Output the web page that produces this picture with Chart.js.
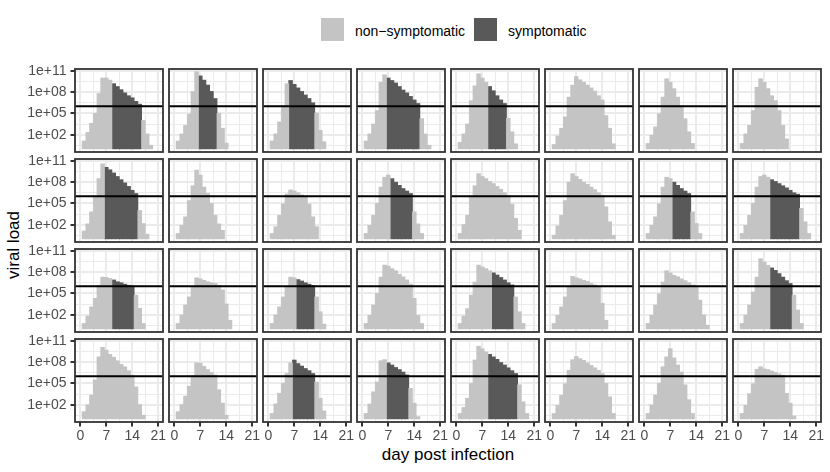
<!DOCTYPE html>
<html>
<head>
<meta charset="utf-8">
<script src="https://cdn.jsdelivr.net/npm/chart.js@4.4.1/dist/chart.umd.min.js"></script>
<style>
  html, body { margin: 0; padding: 0; background: #ffffff; }
  #wrap { position: relative; width: 830px; height: 472px; overflow: hidden; background: #ffffff;
          font-family: "Liberation Sans", Arial, Helvetica, sans-serif; }
  .pc { position: absolute; }
  .key { position: absolute; width: 23px; height: 23px; }
  .ktext { position: absolute; font-size: 14px; line-height: 23px; color: #000; white-space: nowrap; }
  #xtitle { position: absolute; left: 75px; width: 746px; top: 445px; line-height: 20px; text-align: center;
            font-size: 17px; color: #000; }
  #ytitle { position: absolute; left: -86px; top: 235px; width: 200px; line-height: 20px; text-align: center;
            font-size: 17px; color: #000; transform: rotate(-90deg); }
</style>
</head>
<body>
<div id="wrap">
  <div class="key" style="left:321px; top:18px; background:#c4c4c4;"></div>
  <div class="ktext" style="left:355px; top:20px;">non−symptomatic</div>
  <div class="key" style="left:474px; top:18px; background:#595959;"></div>
  <div class="ktext" style="left:508px; top:20px;">symptomatic</div>
  <div id="xtitle">day post infection</div>
  <div id="ytitle">viral load</div>
</div>
<script>
// ---------------- data (log10 viral load, one value per day starting at FIRST_DAY) ----------------
const FIRST_DAY = 1;
// row 1
const panel01 = [1.1, 2.3, 3.6, 5.0, 7.8, 10.0, 10.0, 9.7, 9.2, 8.8, 8.35, 7.9, 7.5, 7.2, 6.7, 6.3, 4.0, 2.1, 0.5];
const panel02 = [1.1, 2.1, 3.3, 4.9, 8.1, 10.9, 10.3, 9.7, 9.0, 8.1, 7.1, 5.0, 2.9, 0.8];
const panel03 = [1.1, 2.1, 3.8, 6.1, 9.2, 9.65, 9.1, 8.6, 8.1, 7.6, 7.1, 6.5, 5.05, 2.6, 1.0];
const panel04 = [1.1, 2.1, 3.5, 5.4, 9.4, 10.45, 10.0, 9.65, 9.3, 8.8, 8.3, 7.9, 7.4, 6.9, 6.4, 4.25, 2.1, 0.5];
const panel05 = [0.9, 2.1, 3.5, 6.8, 8.9, 10.6, 10.0, 9.4, 8.8, 8.2, 7.5, 6.9, 6.4, 4.3, 2.4, 0.7];
const panel06 = [0.6, 1.8, 2.9, 4.5, 7.3, 9.0, 10.2, 9.75, 9.4, 9.0, 8.6, 8.15, 7.5, 6.9, 4.7, 2.9, 0.7];
const panel07 = [0.75, 1.9, 3.1, 4.95, 7.3, 9.9, 9.4, 8.5, 7.3, 6.1, 4.25, 2.4, 0.75];
const panel08 = [0.75, 2.1, 3.3, 5.4, 8.7, 9.9, 9.4, 8.5, 7.5, 6.8, 5.4, 3.3, 1.4];
// row 2
const panel09 = [1.1, 2.1, 3.8, 5.9, 8.5, 10.6, 10.1, 9.75, 9.3, 8.8, 8.35, 7.9, 7.4, 6.85, 6.4, 4.0, 2.15, 0.65];
const panel10 = [0.75, 1.9, 3.1, 5.4, 7.5, 9.7, 9.0, 7.3, 6.4, 5.0, 3.3, 2.1, 1.2];
const panel11 = [0.75, 1.7, 3.3, 4.95, 6.35, 6.9, 6.75, 6.5, 6.2, 6.0, 4.9, 3.1, 1.7];
const panel12 = [0.75, 1.9, 3.3, 5.0, 7.3, 8.7, 9.0, 8.5, 8.0, 7.55, 7.1, 6.75, 6.4, 3.8, 2.1, 0.75];
const panel13 = [0.75, 2.0, 3.3, 5.9, 7.5, 9.2, 8.8, 8.5, 8.1, 7.8, 7.4, 7.0, 6.5, 6.1, 4.9, 2.9, 1.2];
const panel14 = [0.5, 1.8, 3.3, 5.4, 8.0, 9.2, 8.8, 8.4, 8.0, 7.7, 7.3, 6.95, 6.5, 6.1, 4.5, 2.4, 0.5];
const panel15 = [0.75, 1.9, 3.1, 4.95, 7.3, 8.7, 8.5, 8.0, 7.55, 7.1, 6.75, 6.4, 3.8, 2.15, 0.75];
const panel16 = [0.75, 1.9, 3.3, 5.0, 7.3, 8.8, 9.0, 8.7, 8.35, 8.1, 7.8, 7.5, 7.2, 6.85, 6.5, 6.3, 4.3, 2.4, 0.75];
// row 3
const panel17 = [0.75, 1.8, 3.1, 4.3, 6.15, 7.3, 7.25, 7.1, 6.9, 6.65, 6.5, 6.3, 6.15, 6.05, 4.75, 2.9, 0.75];
const panel18 = [0.75, 1.95, 3.35, 4.5, 5.9, 7.2, 7.05, 6.85, 6.65, 6.5, 6.4, 6.15, 5.5, 3.5, 1.2];
const panel19 = [0.75, 1.95, 3.1, 4.5, 5.9, 7.3, 7.2, 6.95, 6.75, 6.5, 6.3, 6.1, 4.5, 2.4, 0.65];
const panel20 = [0.75, 1.9, 3.35, 5.0, 7.3, 9.0, 8.85, 8.5, 8.2, 7.7, 7.35, 6.9, 6.3, 4.3, 1.9, 0.75];
const panel21 = [0.75, 1.8, 2.85, 4.75, 6.6, 9.0, 8.75, 8.5, 8.2, 7.9, 7.6, 7.25, 6.9, 6.5, 6.2, 4.5, 2.4, 0.75];
const panel22 = [0.75, 1.9, 3.1, 4.5, 5.9, 7.4, 7.2, 7.05, 6.85, 6.7, 6.4, 6.2, 6.0, 3.6, 1.2];
const panel23 = [0.75, 1.9, 3.35, 4.95, 6.6, 8.2, 7.9, 7.55, 7.35, 7.05, 6.8, 6.5, 6.2, 6.0, 4.05, 1.95, 0.5];
const panel24 = [0.75, 1.95, 3.35, 5.2, 7.3, 9.9, 9.45, 8.95, 8.6, 8.25, 7.8, 7.3, 6.8, 6.4, 4.75, 2.65, 0.75];
// row 4
const panel25 = [1.0, 1.95, 3.35, 5.5, 8.75, 10.1, 9.7, 9.1, 8.7, 8.2, 7.7, 7.35, 6.8, 6.15, 4.5, 2.0, 0.5];
const panel26 = [1.0, 2.0, 3.2, 4.6, 6.1, 7.9, 7.85, 7.4, 6.95, 6.55, 6.2, 4.1, 2.2, 0.5];
const panel27 = [0.75, 2.1, 3.6, 5.0, 6.4, 7.9, 8.3, 7.8, 7.45, 7.1, 6.8, 6.4, 5.2, 2.9, 1.1];
const panel28 = [0.75, 2.1, 3.8, 5.2, 8.2, 8.35, 7.9, 7.6, 7.25, 6.95, 6.6, 6.2, 4.3, 2.2, 0.3];
const panel29 = [0.75, 1.6, 2.9, 5.0, 8.3, 10.25, 9.9, 9.45, 9.1, 8.75, 8.4, 7.95, 7.6, 7.2, 6.8, 6.4, 4.8, 2.4, 0.75];
const panel30 = [0.75, 1.9, 3.3, 4.95, 6.85, 8.35, 8.8, 8.5, 8.25, 7.9, 7.55, 7.2, 6.85, 6.4, 5.0, 3.1, 0.75];
const panel31 = [0.75, 1.95, 3.35, 5.0, 7.35, 8.75, 9.9, 8.6, 7.6, 6.6, 4.8, 2.7, 0.75];
const panel32 = [0.75, 1.9, 3.55, 4.95, 7.0, 7.35, 7.05, 6.95, 6.75, 6.55, 6.35, 6.15, 3.6, 2.2, 0.4];

// symptomatic day windows [first, last] per panel (null = never symptomatic)
const symptomRow1 = [[9, 16], [7, 11], [6, 12], [7, 15], [9, 13], null, null, null];
const symptomRow2 = [[7, 15], null, null, [8, 13], null, null, [8, 12], [9, 16]];
const symptomRow3 = [[9, 14], null, [8, 12], null, [10, 15], null, null, [9, 14]];
const symptomRow4 = [null, null, [7, 12], [7, 12], [9, 16], null, null, null];

const THRESHOLD = 1e6;          // horizontal reference line
const BAR_BASE = 1;             // bars start at 1 (10^0)
const yMajorExp = [2, 5, 8, 11];
const yTickLabels = ['1e+02', '1e+05', '1e+08', '1e+11'];
const yMinorExp = [0.5, 3.5, 6.5, 9.5];
const xMajor = [0, 7, 14, 21];
const xTickLabels = ['0', '7', '14', '21'];
const xMinor = [3.5, 10.5, 17.5];
const Y_MIN_EXP = -0.45, Y_MAX_EXP = 11.28;
const X_MIN = -1.43, X_MAX = 22.27;

// ---------------- layout ----------------
const panels = [panel01, panel02, panel03, panel04, panel05, panel06, panel07, panel08,
                panel09, panel10, panel11, panel12, panel13, panel14, panel15, panel16,
                panel17, panel18, panel19, panel20, panel21, panel22, panel23, panel24,
                panel25, panel26, panel27, panel28, panel29, panel30, panel31, panel32];
const symptom = [].concat(symptomRow1, symptomRow2, symptomRow3, symptomRow4);
const NCOL = 8, NROW = 4;
const P_LEFT = 75, P_DX = 94, P_W = 88, P_TOP = 69, P_DY = 90, P_H = 83;
const ML = 50, MT = 8, MR = 8, MB = 24;

const LIGHT = '#c4c4c4';
const DARK = '#595959';
const GRID = '#EBEBEB';
const AXIS_DARK = '#333333';
const TICK_TEXT = '#4D4D4D';

Chart.defaults.font.family = '"Liberation Sans", Arial, Helvetica, sans-serif';

const near = (a, b) => Math.abs(a - b) < 1e-6;
const isMajorY = v => yMajorExp.some(e => near(e, Math.log10(v)));
const isMajorX = v => xMajor.some(e => near(e, v));

const panelDecor = {
  id: 'panelDecor',
  afterDatasetsDraw(chart) {
    const { ctx, chartArea: a, scales } = chart;
    const yy = scales.y.getPixelForValue(THRESHOLD);
    ctx.save();
    ctx.beginPath();
    ctx.moveTo(a.left, yy);
    ctx.lineTo(a.right, yy);
    ctx.strokeStyle = '#000000';
    ctx.lineWidth = 2;
    ctx.stroke();
    ctx.strokeStyle = AXIS_DARK;
    ctx.lineWidth = 1.8;
    ctx.strokeRect(a.left, a.top, a.right - a.left, a.bottom - a.top);
    ctx.restore();
  }
};

const wrap = document.getElementById('wrap');

panels.forEach((vals, i) => {
  const r = Math.floor(i / NCOL), c = i % NCOL;
  const showY = c === 0, showX = r === NROW - 1;
  const win = symptom[i];
  const light = [], dark = [];
  vals.forEach((v, k) => {
    const day = FIRST_DAY + k;
    const pt = { x: day, y: [BAR_BASE, Math.pow(10, v)] };
    if (win && day >= win[0] && day <= win[1]) dark.push(pt); else light.push(pt);
  });

  const W = ML + P_W + MR, H = MT + P_H + MB;
  const cv = document.createElement('canvas');
  cv.className = 'pc';
  cv.width = W; cv.height = H;
  cv.style.width = W + 'px'; cv.style.height = H + 'px';
  cv.style.left = (P_LEFT + P_DX * c - ML) + 'px';
  cv.style.top = (P_TOP + P_DY * r - MT) + 'px';
  wrap.appendChild(cv);

  const barCommon = { borderWidth: 0, grouped: false, barPercentage: 1, categoryPercentage: 1, inflateAmount: 0.4 };

  new Chart(cv, {
    type: 'bar',
    data: {
      datasets: [
        Object.assign({ label: 'non-symptomatic', data: light, backgroundColor: LIGHT }, barCommon),
        Object.assign({ label: 'symptomatic', data: dark, backgroundColor: DARK }, barCommon)
      ]
    },
    options: {
      responsive: false,
      animation: false,
      events: [],
      layout: { padding: { top: MT, right: MR, left: 0, bottom: 0 } },
      plugins: { legend: { display: false }, tooltip: { enabled: false } },
      scales: {
        x: {
          type: 'linear',
          min: X_MIN, max: X_MAX,
          offset: false,
          grid: {
            offset: false,
            color: GRID,
            lineWidth: ctx => (ctx.tick && isMajorX(ctx.tick.value)) ? 2 : 1,
            drawTicks: true,
            tickLength: 4.5,
            tickWidth: 2,
            tickColor: ctx => (showX && ctx.tick && isMajorX(ctx.tick.value)) ? AXIS_DARK : 'rgba(0,0,0,0)'
          },
          border: { display: false },
          ticks: {
            autoSkip: false, maxRotation: 0, minRotation: 0,
            padding: 1,
            color: TICK_TEXT,
            font: { size: 14 },
            callback: (value) => {
              if (!showX) return '';
              const j = xMajor.findIndex(m => near(m, value));
              return j >= 0 ? xTickLabels[j] : '';
            }
          },
          afterBuildTicks: s => { s.ticks = xMajor.concat(xMinor).sort((a, b) => a - b).map(v => ({ value: v })); },
          afterFit: s => { s.height = MB; s.paddingLeft = 0; s.paddingRight = 0; }
        },
        y: {
          type: 'logarithmic',
          min: Math.pow(10, Y_MIN_EXP), max: Math.pow(10, Y_MAX_EXP),
          grid: {
            color: GRID,
            lineWidth: ctx => (ctx.tick && isMajorY(ctx.tick.value)) ? 2 : 1,
            drawTicks: true,
            tickLength: 4.5,
            tickWidth: 2,
            tickColor: ctx => (showY && ctx.tick && isMajorY(ctx.tick.value)) ? AXIS_DARK : 'rgba(0,0,0,0)'
          },
          border: { display: false },
          ticks: {
            autoSkip: false,
            padding: 4,
            color: TICK_TEXT,
            font: { size: 14 },
            callback: (value) => {
              if (!showY) return '';
              const j = yMajorExp.findIndex(e => near(e, Math.log10(value)));
              return j >= 0 ? yTickLabels[j] : '';
            }
          },
          afterBuildTicks: s => {
            s.ticks = yMinorExp.concat(yMajorExp).sort((a, b) => a - b).map(e => ({ value: Math.pow(10, e) }));
          },
          afterFit: s => { s.width = ML; s.paddingTop = 0; s.paddingBottom = 0; }
        }
      }
    },
    plugins: [panelDecor]
  });
});
</script>
</body>
</html>
